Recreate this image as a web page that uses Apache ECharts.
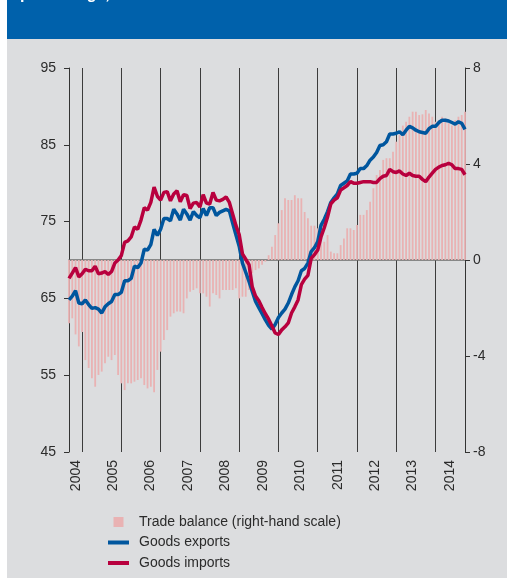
<!DOCTYPE html>
<html>
<head>
<meta charset="utf-8">
<script src="https://cdn.jsdelivr.net/npm/echarts@6.0.0/dist/echarts.min.js"></script>
<style>
html, body { margin: 0; padding: 0; background: #fff; }
#chart { width: 507px; height: 578px; }
</style>
</head>
<body>
<div id="chart"></div>
<script>
// goods exports (left scale)
var goodsExports = [
    64.8, 65.3, 66.0, 64.4, 64.3, 64.8, 64.2, 63.7, 63.8, 63.6,
    63.1, 63.9, 64.3, 64.6, 65.5, 65.5, 65.8, 67.3, 67.3, 67.6,
    69.2, 69.0, 69.6, 71.4, 71.3, 72.0, 74.0, 73.2, 74.0, 75.4,
    75.4, 75.1, 76.6, 76.0, 75.2, 76.6, 76.0, 75.2, 76.3, 75.8,
    75.5, 76.7, 75.8, 76.8, 76.8, 75.8, 76.2, 76.4, 76.6, 76.4,
    74.8, 73.3, 71.8, 69.6, 68.4, 67.2, 65.9, 64.6, 63.8, 63.0,
    62.2, 61.5, 61.0, 61.6, 62.5, 63.1, 63.6, 64.4, 65.5, 66.5,
    67.3, 68.6, 68.9, 69.6, 71.1, 71.6, 72.4, 74.5, 75.3, 76.3,
    77.5, 78.1, 78.6, 79.7, 80.0, 80.3, 81.2, 81.2, 81.3, 81.9,
    81.9, 82.3, 83.0, 83.4, 84.0, 84.9, 85.0, 85.4, 86.4, 86.4,
    86.5, 86.7, 86.3, 86.9, 87.4, 87.2, 86.9, 86.7, 86.6, 86.5,
    87.1, 87.4, 87.4, 87.9, 88.2, 88.2, 88.1, 87.9, 87.7, 88.0,
    87.8, 87.0
];

// goods imports (left scale)
var goodsImports = [
    67.6, 68.3, 69.0, 67.8, 68.2, 68.8, 68.6, 68.6, 69.2, 68.2,
    68.3, 68.5, 68.1, 68.5, 69.6, 70.0, 70.6, 72.3, 72.5, 73.0,
    74.3, 74.0, 75.2, 76.8, 76.5, 77.5, 79.5, 78.3, 77.8, 78.8,
    78.9, 77.7, 78.6, 79.0, 77.6, 78.5, 78.4, 76.7, 77.4, 77.5,
    76.9, 78.5, 77.4, 77.3, 78.8, 77.8, 77.7, 77.9, 78.2, 77.5,
    76.0, 74.5, 73.3, 70.8, 70.1, 69.4, 66.5, 65.3, 64.7, 63.8,
    63.0, 62.3, 61.4, 60.5, 60.3, 60.9, 61.3, 61.8, 63.1, 63.9,
    64.8, 66.8, 67.5, 68.0, 70.2, 70.7, 71.3, 73.0, 74.2, 75.6,
    77.3, 77.8, 78.1, 79.1, 79.4, 79.7, 80.2, 80.0, 80.0, 80.1,
    80.2, 80.2, 80.2, 80.1, 80.1, 80.6, 80.9, 81.0, 81.8, 81.5,
    81.4, 81.6, 81.2, 81.0, 81.3, 81.0, 80.9, 80.9, 80.5, 80.2,
    80.8, 81.3, 81.8, 82.1, 82.3, 82.4, 82.6, 82.4, 81.9, 81.9,
    81.8, 81.1
];

// trade balance (right scale)
var tradeBalance = [
    -2.64, -2.43, -3.1, -3.6, -3.0, -4.17, -4.5, -4.93, -5.28, -4.79,
    -4.65, -4.3, -4.03, -4.17, -3.96, -4.79, -5.14, -5.42, -5.14, -5.14,
    -5.07, -5.0, -4.93, -5.21, -5.35, -5.28, -5.51, -4.58, -3.82, -3.33,
    -2.92, -2.36, -2.22, -2.15, -2.15, -2.22, -1.6, -1.32, -1.25, -1.18,
    -1.39, -1.39, -1.53, -1.94, -1.39, -1.46, -1.6, -1.25, -1.25, -1.25,
    -1.25, -1.18, -1.6, -1.53, -1.53, -1.25, -0.55, -0.42, -0.35, -0.2,
    -0.07, 0.2, 0.55, 1.04, 1.53, 2.08, 2.57, 2.5, 2.5, 2.7,
    2.57, 2.57, 2.0, 1.74, 1.43, 1.43, 1.32, 1.39, 0.76, 1.04,
    0.35, 0.28, 0.28, 0.62, 0.9, 1.32, 1.32, 1.25, 1.46, 1.88,
    1.88, 2.08, 2.43, 2.99, 3.54, 3.75, 4.17, 4.24, 4.24, 4.51,
    4.93, 5.2, 5.6, 5.76, 5.97, 6.18, 6.18, 6.04, 6.07, 6.25,
    6.1, 5.97, 5.76, 5.83, 5.97, 5.9, 5.7, 5.6, 5.83, 5.97,
    6.04, 6.18
];

var yearLabels = [2004, 2005, 2006, 2007, 2008, 2009, 2010, 2011, 2012, 2013, 2014];

// monthly categories
var months = [];
for (var i = 0; i < goodsExports.length; i++) {
    var m = 8 + i;
    months.push((2003 + Math.floor(m / 12)) + '-' + ('0' + (m % 12 + 1)).slice(-2));
}

var font = '"Liberation Sans", Arial, sans-serif';
var chart = echarts.init(document.getElementById('chart'));

var option = {
    animation: false,
    textStyle: { fontFamily: font },
    graphic: [
        { type: 'rect', z: -10, shape: { x: 0, y: 0, width: 507, height: 578 }, style: { fill: '#ffffff' } },
        { type: 'rect', z: -10, shape: { x: 7, y: 38, width: 500, height: 540 }, style: { fill: '#dcdddf' } },
        { type: 'rect', z: -10, shape: { x: 7, y: 0, width: 500, height: 39 }, style: { fill: '#0061ab' } },
        {
            type: 'text', z: -9, x: 20, y: -5,
            style: { text: 'percentage,', fill: '#ffffff', font: 'bold 16px ' + font, verticalAlign: 'middle' }
        }
    ],
    grid: { left: 69, right: 42, top: 68, bottom: 126 },
    legend: {
        orient: 'vertical',
        left: 103,
        top: 510,
        itemWidth: 21,
        itemHeight: 10,
        itemGap: 6.5,
        textStyle: { fontSize: 14, color: '#2b2b2b', padding: [0, 0, 0, 5] },
        data: [
            { name: 'Trade balance (right-hand scale)', icon: 'path://M0,0H10V10H0Z' },
            { name: 'Goods exports', icon: 'path://M0,0H21V4H0Z' },
            { name: 'Goods imports', icon: 'path://M0,0H21V4H0Z' }
        ]
    },
    xAxis: [{
        type: 'category',
        data: months,
        boundaryGap: false,
        axisLine: { lineStyle: { color: '#6b6b6b', width: 1.5 } },
        axisTick: { show: false },
        axisLabel: { show: false },
        splitLine: {
            show: true,
            interval: function (index, value) { return value.slice(5) === '01'; },
            lineStyle: { color: '#3c3c3c', width: 1 }
        }
    }, {
        type: 'value',
        position: 'bottom',
        min: 2003.82,
        max: 2014.4,
        axisLine: { show: false },
        axisTick: { show: false },
        splitLine: { show: false },
        axisLabel: {
            customValues: yearLabels,
            rotate: 90,
            margin: 8,
            fontSize: 14,
            color: '#2b2b2b',
            formatter: function (v) { return String(v); }
        }
    }],
    yAxis: [{
        type: 'value',
        position: 'left',
        min: 45,
        max: 95,
        interval: 10,
        axisLine: { show: true, lineStyle: { color: '#333', width: 1 } },
        axisTick: { show: true, length: 5, lineStyle: { color: '#333' } },
        splitLine: { show: false },
        axisLabel: { fontSize: 14, color: '#2b2b2b', margin: 13 }
    }, {
        type: 'value',
        position: 'right',
        min: -8,
        max: 8,
        interval: 4,
        axisLine: { show: true, lineStyle: { color: '#333', width: 1 } },
        axisTick: { show: true, length: 5, lineStyle: { color: '#333' } },
        splitLine: { show: false },
        axisLabel: { fontSize: 14, color: '#2b2b2b', margin: 8 }
    }],
    series: [{
        name: 'Trade balance (right-hand scale)',
        type: 'bar',
        xAxisIndex: 0,
        yAxisIndex: 1,
        data: tradeBalance,
        barWidth: 1.8,
        itemStyle: { color: '#e9b2b3' }
    }, {
        name: 'Goods exports',
        type: 'line',
        xAxisIndex: 0,
        yAxisIndex: 0,
        data: goodsExports,
        symbol: 'none',
        lineStyle: { color: '#00569e', width: 3.5 },
        itemStyle: { color: '#00569e' }
    }, {
        name: 'Goods imports',
        type: 'line',
        xAxisIndex: 0,
        yAxisIndex: 0,
        data: goodsImports,
        symbol: 'none',
        lineStyle: { color: '#b8003e', width: 3.5 },
        itemStyle: { color: '#b8003e' }
    }]
};

chart.setOption(option);
</script>
</body>
</html>
